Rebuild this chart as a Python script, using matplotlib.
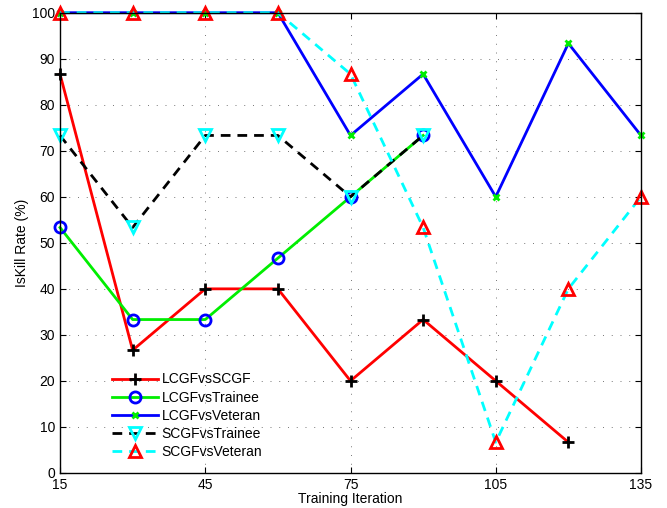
import matplotlib
matplotlib.use("Agg")
import matplotlib.pyplot as plt

plt.rcParams['font.family'] = ['Liberation Sans', 'DejaVu Sans']

# Data
iterations = [15, 30, 45, 60, 75, 90, 105, 120, 135]
lcgf_vs_scgf = [86.67, 26.67, 40, 40, 20, 33.33, 20, 6.67]
lcgf_vs_trainee = [53.33, 33.33, 33.33, 46.67, 60, 73.33]
lcgf_vs_veteran = [100, 100, 100, 100, 73.33, 86.67, 60, 93.33, 73.33]
scgf_vs_trainee = [73.33, 53.33, 73.33, 73.33, 60, 73.33]
scgf_vs_veteran = [100, 100, 100, 100, 86.67, 53.33, 6.67, 40, 60]

fig = plt.figure(figsize=(6.67, 5.08), dpi=100)
ax = fig.add_axes([0.090, 0.069, 0.871, 0.906])

dash = (0, (3.5, 2.5))
ax.plot(iterations[:len(lcgf_vs_scgf)], lcgf_vs_scgf, '-', color='red', lw=2,
        marker='+', ms=9, mec='black', mew=2, label='LCGFvsSCGF', clip_on=False)
ax.plot(iterations[:len(lcgf_vs_trainee)], lcgf_vs_trainee, '-', color='#00ee00', lw=2,
        marker='o', ms=8, mec='blue', mfc='none', mew=2, label='LCGFvsTrainee', clip_on=False)
ax.plot(iterations, lcgf_vs_veteran, '-', color='blue', lw=2,
        marker='x', ms=5, mec='#00ee00', mew=2, label='LCGFvsVeteran', clip_on=False)
ax.plot(iterations[:len(scgf_vs_trainee)], scgf_vs_trainee, linestyle=dash, color='black', lw=2,
        marker='v', ms=9, mec='cyan', mfc='none', mew=2, label='SCGFvsTrainee', clip_on=False)
ax.plot(iterations, scgf_vs_veteran, linestyle=dash, color='cyan', lw=2,
        marker='^', ms=9, mec='red', mfc='none', mew=2, label='SCGFvsVeteran', clip_on=False)

ax.set_xlim(15, 135)
ax.set_ylim(0, 100)
ax.set_xticks([15, 45, 75, 105, 135])
ax.set_yticks(range(0, 101, 10))
ax.grid(True, linestyle=(0, (1, 8)), color='#777777', lw=0.7)
ax.tick_params(direction='in', labelsize=10, length=4, top=True, right=True)
for s in ax.spines.values():
    s.set_linewidth(1)
ax.set_xlabel('Training Iteration', fontsize=10, labelpad=0)
ax.set_ylabel('IsKill Rate (%)', fontsize=10, labelpad=2)

ax.legend(loc='lower left', bbox_to_anchor=(0.065, 0.0), frameon=False,
          fontsize=10, handlelength=3.3, labelspacing=0.3, borderpad=0.5,
          handletextpad=0.3)

fig.savefig('out.png', dpi=100)
